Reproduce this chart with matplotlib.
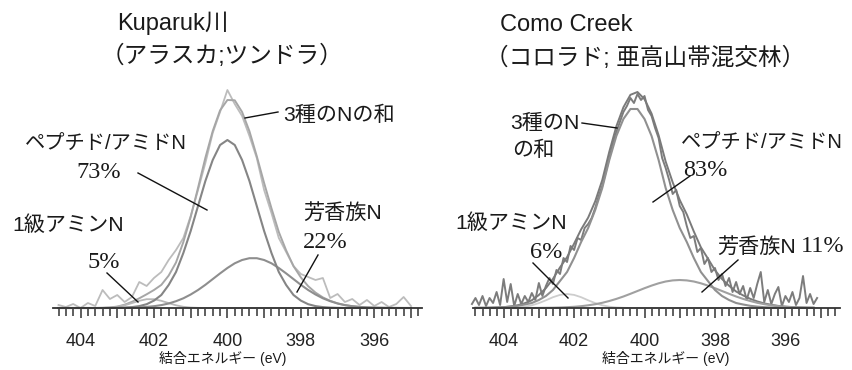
import numpy as np
import matplotlib
matplotlib.use("Agg")
import matplotlib.pyplot as plt
from matplotlib.lines import Line2D
from matplotlib.ticker import MultipleLocator, FuncFormatter

plt.rcParams['font.family'] = ['Liberation Sans', 'Noto Sans CJK JP']

W, H = 853, 370

# Kuparuk River (Alaska, tundra) -- binding energy grid in eV, intensities in arbitrary units
kup_energy = np.round(np.arange(404.6, 394.95, -0.2), 1)
kup_measured = [3, 1, 4, 0, 5, 2, 18, 9, 13, 6, 11, 26, 22, 30, 36, 48, 58, 70, 92, 118,
                145, 175, 196, 218, 204, 192, 172, 150, 118, 95, 70, 56, 42, 34, 31, 28,
                30, 10, 14, 6, 9, 3, 8, 2, 6, 1, 4, 11, 2]
kup_amine = [0, 0, 0, 0, 0, 0, 0.14, 0.45, 1.2, 2.7, 4.9, 7.2, 8.8, 8.8, 7.2, 4.9, 2.7,
             1.2, 0.45, 0.14] + [0] * 29
kup_peptide = [0] * 8 + [0.15, 0.4, 0.9, 1.9, 3.8, 7.4, 13, 23, 36, 55, 77, 102, 127, 148,
                         163, 168, 163, 148, 127, 102, 77, 55, 36, 23, 13, 7.4, 3.8, 1.9,
                         0.9, 0.4, 0.15] + [0] * 10
kup_aromatic = [0] * 7 + [0.05, 0.1, 0.2, 0.35, 0.6, 1.1, 1.8, 2.9, 4.5, 6.8, 9.7, 13.5,
                          18, 23.2, 28.9, 34.6, 40, 44.7, 48, 49.8, 49.8, 48, 44.7, 40,
                          34.6, 28.9, 23.2, 18, 13.5, 9.7, 6.8, 4.5, 2.9, 1.8, 1.1, 0.6,
                          0.35, 0.2, 0.1, 0.05] + [0] * 2

# Como Creek (Colorado, subalpine mixed forest)
como_energy = np.round(np.arange(404.8, 395.15, -0.2), 1)
como_amine = [0] * 5 + [0.2, 0.55, 1.3, 2.7, 4.9, 7.7, 10.8, 13.1, 14, 13.1, 10.8, 7.7,
                        4.9, 2.7, 1.3, 0.55, 0.2] + [0] * 27
como_peptide = [0.15, 0.2, 0.3, 0.5, 0.8, 1.4, 2.2, 3.5, 5, 8, 12, 18, 27, 36, 50, 66, 80,
                98, 120, 148, 172, 189, 199, 199, 189, 172, 148, 120, 98, 80, 66, 50, 36,
                27, 18, 12, 8, 5, 3.5, 2.2, 1.4, 0.8, 0.5, 0.3, 0.2, 0.15, 0.1, 0.1, 0.1]
como_aromatic = [0] * 9 + [0.1, 0.2, 0.3, 0.5, 0.8, 1.2, 1.8, 2.7, 3.8, 5.2, 7.0, 9.1,
                           11.5, 14.2, 17, 19.8, 22.4, 24.7, 26.5, 27.6, 28, 27.6, 26.5,
                           24.7, 22.4, 19.8, 17, 14.2, 11.5, 9.1, 7.0, 5.2, 3.8, 2.7, 1.8,
                           1.2, 0.8, 0.5, 0.3, 0.2]
como_meas_energy = np.round(np.arange(404.9, 395.05, -0.1), 1)
como_measured = [4, 10, 3, 12, 2, 10, 5, 16, 3, 29, 6, 24, 2, 14, 4, 12, 6, 15, 8, 25,
                 12, 22, 30, 24, 38, 34, 50, 46, 62, 58, 70, 68, 80, 84, 90, 100, 112, 122,
                 136, 150, 164, 176, 186, 196, 202, 210, 205, 214, 208, 212, 198, 192, 180,
                 170, 150, 140, 128, 114, 118, 102, 96, 82, 70, 72, 56, 60, 44, 50, 36, 40,
                 28, 34, 22, 30, 16, 26, 14, 22, 8, 20, 10, 24, 36, 6, 18, 4, 14, 21, 2, 12,
                 6, 16, 3, 10, 32, 5, 14, 4, 10]


def fx(x):
    return x / W


def fy(y):
    return 1 - y / H


def add_panel(x0, x1, xlim):
    ax = fig.add_axes([fx(x0), fy(308), (x1 - x0) / W, 230 / H])
    ax.set_xlim(*xlim)
    ax.set_ylim(0, 230)
    for s in ("left", "right", "top"):
        ax.spines[s].set_visible(False)
    ax.spines["bottom"].set_color("#333333")
    ax.spines["bottom"].set_linewidth(1.3)
    ax.yaxis.set_visible(False)
    ax.xaxis.set_major_locator(MultipleLocator(1))
    ax.xaxis.set_minor_locator(MultipleLocator(0.2))
    ax.xaxis.set_major_formatter(FuncFormatter(
        lambda v, p: "%d" % round(v) if round(v) % 2 == 0 else ""))
    ax.tick_params(axis="x", which="major", length=7.5, width=1.1, color="#333333",
                   labelsize=13, labelcolor="#222222", pad=10.5)
    ax.tick_params(axis="x", which="minor", length=5.5, width=1.1, color="#333333")
    ax.patch.set_alpha(0)
    return ax


def text(x, y, s, size=15.2, **kw):
    kw.setdefault("ha", "left")
    fig.text(fx(x), fy(y), s, fontsize=size, va="center", color="#1a1a1a", **kw)


def pct(x, y, s):
    text(x, y, s, size=17.5, family="Liberation Serif")


def leader(x0, y0, x1, y1):
    fig.add_artist(Line2D([fx(x0), fx(x1)], [fy(y0), fy(y1)], color="#111111", lw=1.0))


fig = plt.figure(figsize=(W / 100, H / 100), dpi=100)

# left panel
ax = add_panel(53, 422, (404.75, 394.7))
kup_sum = np.sum([kup_amine, kup_peptide, kup_aromatic], axis=0)
ax.plot(kup_energy, kup_measured, color="#bcbcbc", lw=1.3, clip_on=False)
ax.plot(kup_energy, kup_sum, color="#a6a6a6", lw=1.4, clip_on=False)
ax.plot(kup_energy, kup_amine, color="#b8b8b8", lw=1.3, clip_on=False)
ax.plot(kup_energy, kup_aromatic, color="#8e8e8e", lw=1.5, clip_on=False)
ax.plot(kup_energy, kup_peptide, color="#858585", lw=1.5, clip_on=False)

# right panel
ax = add_panel(473, 840, (404.87, 394.45))
como_sum = np.sum([como_amine, como_peptide, como_aromatic], axis=0)
ax.plot(como_meas_energy, como_measured, color="#7c7c7c", lw=1.4, clip_on=False)
ax.plot(como_energy, como_sum, color="#7a7a7a", lw=1.4, clip_on=False)
ax.plot(como_energy, como_amine, color="#cdcdcd", lw=1.3, clip_on=False)
ax.plot(como_energy, como_aromatic, color="#a0a0a0", lw=1.5, clip_on=False)
ax.plot(como_energy, como_peptide, color="#909090", lw=1.5, clip_on=False)

# axis titles
text(223, 358, "結合エネルギー (eV)", size=10, ha="center")
text(666, 358, "結合エネルギー (eV)", size=10, ha="center")

# site headings
text(117, 23, "Kuparuk川", size=17)
text(101, 56, "（アラスカ;ツンドラ）", size=17)
text(500, 25, "Como Creek", size=17)
text(485, 58, "（コロラド; 亜高山帯混交林）", size=17)

# component labels, left
text(283, 115, "3種のNの和")
leader(245, 118, 278, 112)
text(25, 143, "ペプチド/アミドN", size=14.6)
pct(76, 172, "73%")
leader(138, 173, 207, 210)
text(12, 225, "1級アミンN")
pct(88, 263, "5%")
leader(107, 273, 138, 302)
text(303, 213, "芳香族N")
pct(303, 243, "22%")
leader(318, 255, 297, 292)

# component labels, right
text(510, 123, "3種のN")
text(512, 150, "の和")
leader(582, 123, 617, 128)
text(681, 142, "ペプチド/アミドN", size=14.6)
pct(683, 170, "83%")
leader(690, 176, 653, 202)
text(455, 223, "1級アミンN")
pct(530, 252, "6%")
leader(533, 263, 568, 298)
text(717, 247, "芳香族N")
pct(801, 247, "11%")
leader(738, 260, 702, 292)

fig.savefig("out.png", dpi=100)
